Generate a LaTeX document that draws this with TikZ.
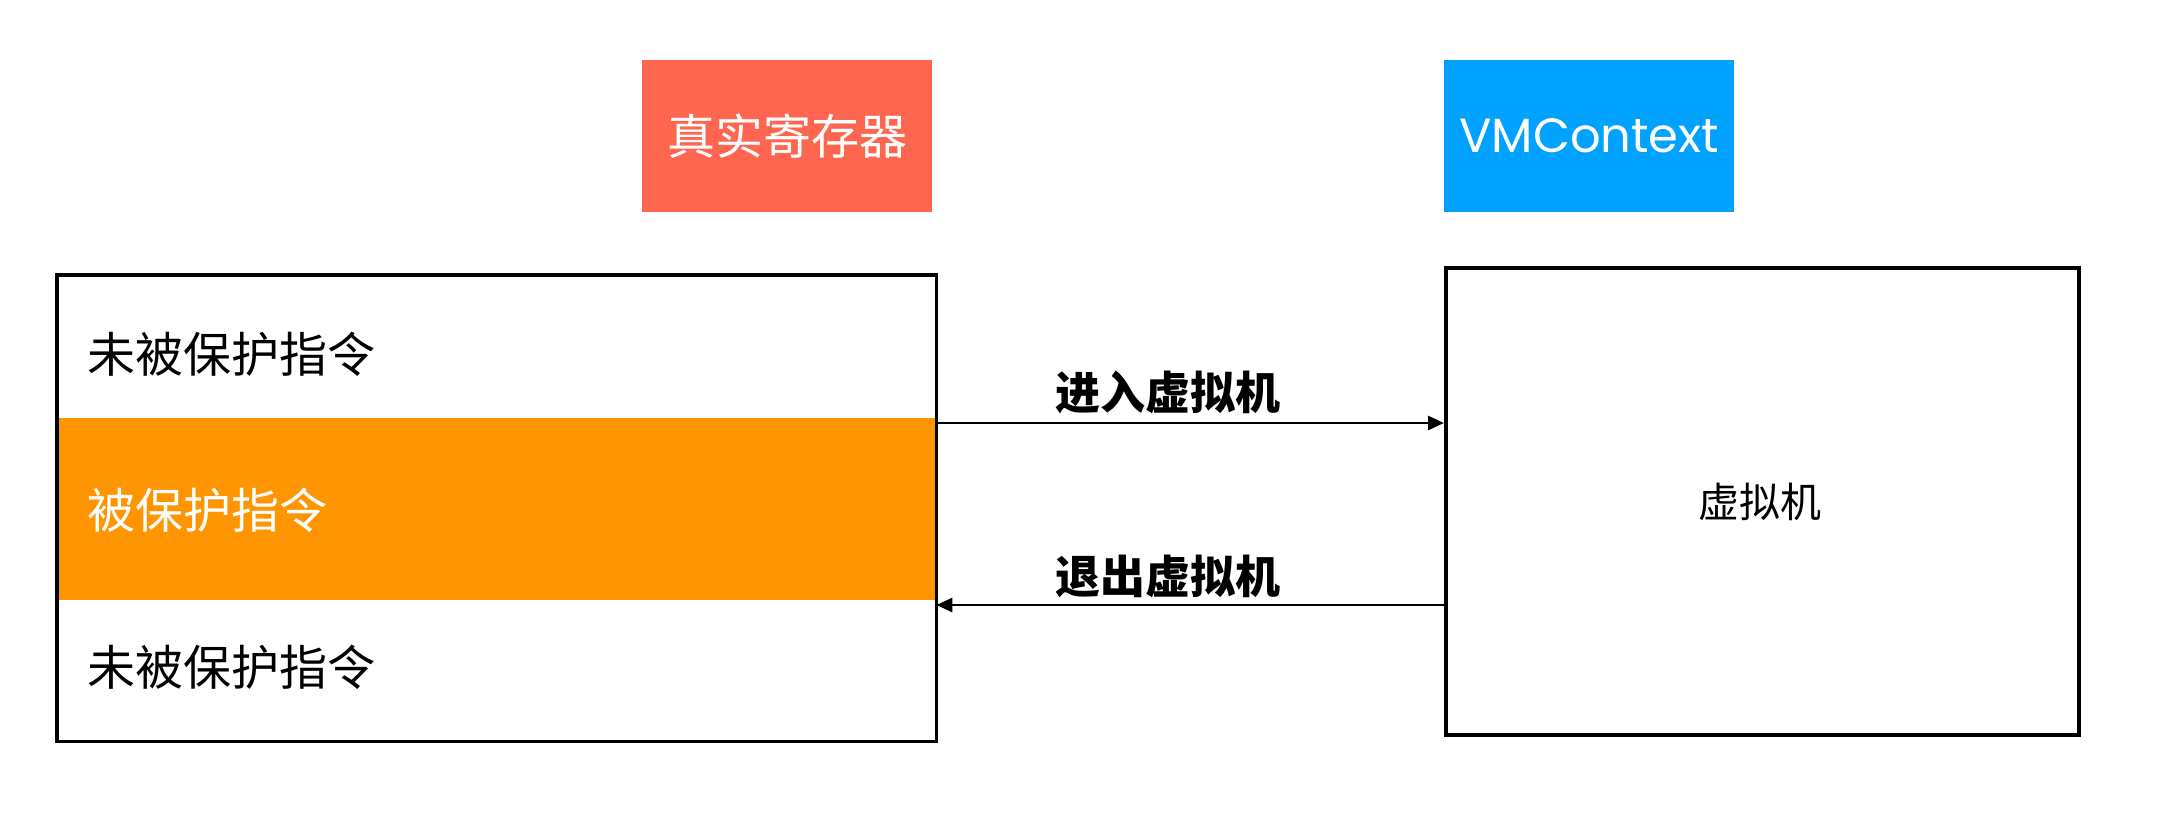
\documentclass[tikz,border=0pt]{standalone}
\usepackage{fontspec}
\setmainfont{Noto Sans CJK SC}
\newfontfamily\cjk{Noto Sans CJK SC}
\newfontfamily\pop{Poppins}
\usetikzlibrary{arrows.meta,calc}
\definecolor{regred}{RGB}{255,102,80}
\definecolor{ctxblue}{RGB}{0,162,255}
\definecolor{bandorange}{RGB}{255,149,0}
\begin{document}
\begin{tikzpicture}[x=1pt,y=-1pt,
  hdr/.style={anchor=north west, inner sep=0pt, minimum width=290pt, minimum height=152pt, text=white},
  rowbox/.style={anchor=north west, inner sep=0pt, minimum width=879pt},
  rowtext/.style={anchor=west, inner sep=0pt, font=\cjk\fontsize{48}{56}\selectfont},
  lbl/.style={inner sep=0pt, font=\cjk\bfseries\fontsize{45}{52}\selectfont},
  arr/.style={line width=2.8pt, -{Triangle[length=16pt,width=14pt]}},
  frame/.style={draw=black, line width=3.5pt}]
\useasboundingbox (0,0) rectangle (2180,840);
\fill[white] (0,0) rectangle (2180,840);
% header boxes
\node[hdr, fill=regred, font=\cjk\fontsize{48}{56}\selectfont] (reg) at (642,60) {真实寄存器};
\node[hdr, fill=ctxblue, font=\pop\fontsize{48}{56}\selectfont] (ctx) at (1444,60) {VMContext};
% left program box
\node[rowbox, minimum height=143pt] (row1) at (57,275) {};
\node[rowbox, minimum height=182pt, fill=bandorange] (row2) at (57,418) {};
\node[rowbox, minimum height=141pt] (row3) at (57,600) {};
\draw[frame] (row1.north west) rectangle (row3.south east);
\node[rowtext] (t1) at (87,354) {未被保护指令};
\node[rowtext, text=white] (t2) at (87,510) {被保护指令};
\node[rowtext] (t3) at (87,667) {未被保护指令};
% right VM box
\node[frame, anchor=north west, inner sep=0pt, minimum width=633pt, minimum height=467pt] (vm) at (1444,266) {};
\node[inner sep=0pt, font=\cjk\fontsize{41}{48}\selectfont] (vmt) at (1760,502) {虚拟机};
% arrows
\draw[arr] (row2.north east |- 0,423) -- (vm.west |- 0,423);
\draw[arr] (vm.west |- 0,605) -- (row2.south east |- 0,605);
\node[lbl] (l1) at (1168,392) {进入虚拟机};
\node[lbl] (l2) at (1168,576) {退出虚拟机};
\end{tikzpicture}
\end{document}
